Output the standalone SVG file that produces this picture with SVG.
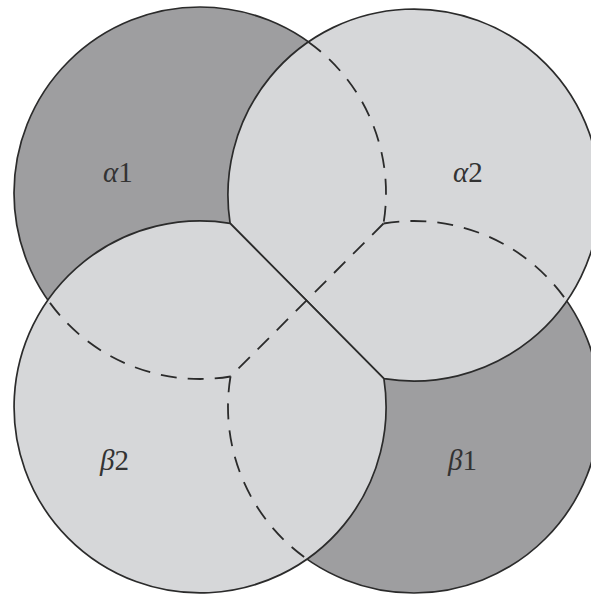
<svg xmlns="http://www.w3.org/2000/svg" width="591" height="595" viewBox="0 0 591 595">
<style>
.dark{fill:#9e9ea0;stroke:#2b2b2b;stroke-width:1.7}
.light{fill:#d6d7d9;stroke:#2b2b2b;stroke-width:1.7;stroke-linejoin:miter}
.hid{fill:none;stroke:#2b2b2b;stroke-width:1.8;stroke-dasharray:16 11}
.lbl{font-family:"Liberation Serif","Times New Roman",serif;font-size:29px;fill:#333}
</style>
<rect width="591" height="595" fill="#ffffff"/>
<g id="alpha1">
<circle class="dark" cx="200" cy="193" r="186"/>
<text class="lbl" x="103" y="182"><tspan font-style="italic">α</tspan>1</text>
</g>
<g id="beta1">
<circle class="dark" cx="414" cy="407" r="186"/>
<text class="lbl" x="448" y="470"><tspan font-style="italic">β</tspan>1</text>
</g>
<g id="alpha2">
<path class="light" d="M230.1 223.4 A186 186 0 1 1 383.9 378.6 Z"/>
<text class="lbl" x="453" y="182"><tspan font-style="italic">α</tspan>2</text>
</g>
<g id="beta2">
<path class="light" d="M230.1 223.4 A186 186 0 1 0 383.9 378.6 Z"/>
<text class="lbl" x="100" y="470"><tspan font-style="italic">β</tspan>2</text>
</g>
<g id="connectors">
<path class="hid" d="M308.4 41.9 A186 186 0 0 1 383.5 223.5"/>
<path class="hid" d="M383.5 223.5 A186 186 0 0 1 566.8 301"/>
<path class="hid" d="M383.5 223.5 L230.5 376.5"/>
<path class="hid" d="M230.5 376.5 A186 186 0 0 1 47.9 300"/>
<path class="hid" d="M230.5 376.5 A186 186 0 0 0 307 559.1"/>
</g>
</svg>
